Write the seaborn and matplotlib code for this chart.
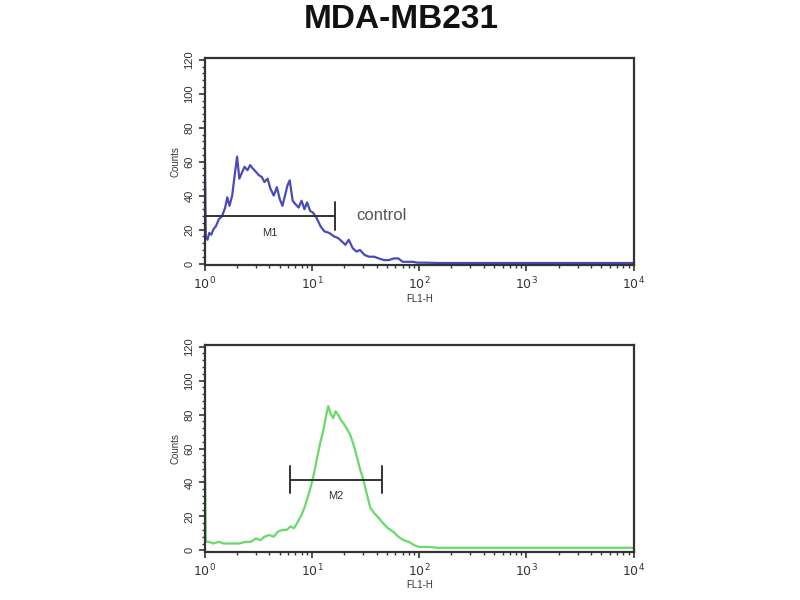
import numpy as np
import pandas as pd
import matplotlib
matplotlib.use("Agg")
import matplotlib.pyplot as plt
import matplotlib.ticker as mticker
import seaborn as sns

# control (top) histogram
ctrl_x = [1.0, 1.02, 1.06, 1.1, 1.15, 1.2, 1.27, 1.35, 1.45, 1.55,
          1.62, 1.7, 1.8, 1.9, 2.0, 2.1, 2.2, 2.35, 2.5, 2.65,
          2.8, 3.0, 3.2, 3.4, 3.6, 3.85, 4.1, 4.4, 4.7, 5.0,
          5.3, 5.6, 5.9, 6.2, 6.6, 7.0, 7.5, 8.0, 8.5, 9.0,
          9.6, 10.2, 11.0, 12.0, 13.0, 14.5, 16, 17.5, 19, 20.5,
          22, 24, 26, 28, 31, 34, 38, 42, 47, 52,
          58, 64, 70, 78, 87, 97, 110, 130, 160, 200,
          300, 500, 800, 1300, 2000, 3500, 6000, 10000]
ctrl_y = [69, 16, 14, 18, 17, 20, 22, 26, 28, 33,
          39, 34, 40, 52, 63, 50, 53, 57, 55, 58,
          56, 54, 52, 51, 48, 50, 44, 40, 45, 38,
          34, 40, 46, 49, 37, 35, 33, 37, 32, 36,
          31, 30, 27, 22, 19, 18, 16, 15, 13, 11,
          14, 9, 7, 8, 5, 4, 4, 3, 2, 2,
          3, 3, 1, 1, 1, 0.5, 0.5, 0.4, 0.3, 0.3,
          0.3, 0.3, 0.3, 0.3, 0.3, 0.3, 0.3, 0.3]

# sample (bottom) histogram
samp_x = [1.0, 1.02, 1.1, 1.2, 1.35, 1.5, 1.7, 1.9, 2.1, 2.4,
          2.7, 3.0, 3.3, 3.6, 4.0, 4.4, 4.8, 5.3, 5.8, 6.3,
          6.8, 7.4, 8.0, 8.6, 9.2, 9.8, 10.5, 11.2, 12.0, 12.8,
          13.5, 14.2, 15.0, 15.8, 16.6, 17.5, 18.5, 19.6, 21, 22.7,
          24.5, 26, 28, 30, 32.5, 35, 38, 42, 46, 51,
          57, 64, 71, 80, 90, 100, 120, 150, 200, 300,
          500, 1000, 2000, 5000, 10000]
samp_y = [61, 5, 5, 4, 5, 4, 4, 4, 4, 5,
          5, 7, 6, 8, 9, 8, 11, 12, 12, 14,
          13, 17, 21, 26, 32, 38, 46, 55, 64, 71,
          79, 85, 80, 78, 82, 80, 77, 75, 72, 68,
          62, 56, 48, 42, 33, 25, 22, 19, 16, 13,
          11, 8, 6, 5, 3, 2, 2, 1.5, 1.5, 1.5,
          1.5, 1.5, 1.5, 1.5, 1.5]

# gates: (start, end, height)
m1_gate = [1.0, 16.3, 28]
m2_gate = [6.2, 44.7, 41.5]

yticks = [0, 20, 40, 60, 80, 100, 120]
xticks = [1, 10, 100, 1000, 10000]
xticklabels = ["$10^0$", "$10^1$", "$10^2$", "$10^3$", "$10^4$"]

sns.set_style("ticks")
plt.rcParams['font.family'] = ['Liberation Sans', 'DejaVu Sans']

fig = plt.figure(figsize=(8, 6), dpi=100)
ax1 = fig.add_axes([0.256, 0.558, 0.536, 0.345])
ax2 = fig.add_axes([0.256, 0.080, 0.536, 0.345])

df1 = pd.DataFrame({"x": ctrl_x, "y": ctrl_y})
df2 = pd.DataFrame({"x": samp_x, "y": samp_y})
sns.lineplot(data=df1, x="x", y="y", ax=ax1, color="#4a4ab8", lw=1.6, sort=False)
sns.lineplot(data=df2, x="x", y="y", ax=ax2, color="#6ad86a", lw=1.6, sort=False)


def gate(ax, g, label, lab_y):
    x0, x1, h = g
    ax.plot([x0, x1], [h, h], color="#333333", lw=1.4)
    ax.plot([x0, x0], [h - 8, h + 8], color="#333333", lw=1.4)
    ax.plot([x1, x1], [h - 8, h + 8], color="#333333", lw=1.4)
    xm = np.sqrt(x0 * x1)
    ax.text(xm, lab_y, label, ha="center", va="center", fontsize=8, color="#333333")


gate(ax1, m1_gate, "M1", 18)
gate(ax2, m2_gate, "M2", 32)
ax1.text(26, 28, "control", ha="left", va="center", fontsize=12, color="#555555")

for ax in (ax1, ax2):
    ax.set_xscale("log")
    ax.set_xlim(1, 10000)
    ax.set_ylim(-1, 121)
    ax.set_xticks(xticks)
    ax.set_xticklabels(xticklabels, fontsize=9, color="#333333")
    ax.xaxis.set_minor_locator(mticker.LogLocator(base=10, subs=np.arange(2, 10), numticks=20))
    ax.set_yticks(yticks)
    ax.set_yticklabels([str(v) for v in yticks], fontsize=8, rotation=90, va="center", color="#333333")
    ax.yaxis.set_minor_locator(mticker.MultipleLocator(4))
    ax.tick_params(which="major", length=4, width=1.2, colors="#333333", labelcolor="#333333")
    ax.tick_params(which="minor", length=2, width=1, colors="#333333")
    ax.set_xlabel("FL1-H", fontsize=7, color="#333333", labelpad=1)
    ax.set_ylabel("Counts", fontsize=7, color="#333333", labelpad=3)
    for s in ax.spines.values():
        s.set_visible(True)
        s.set_linewidth(1.6)
        s.set_color("#333333")

fig.text(0.502, 0.968, "MDA-MB231", ha="center", va="center", fontsize=24,
         fontweight="bold", color="#111111")

fig.savefig("out.png", dpi=100)
